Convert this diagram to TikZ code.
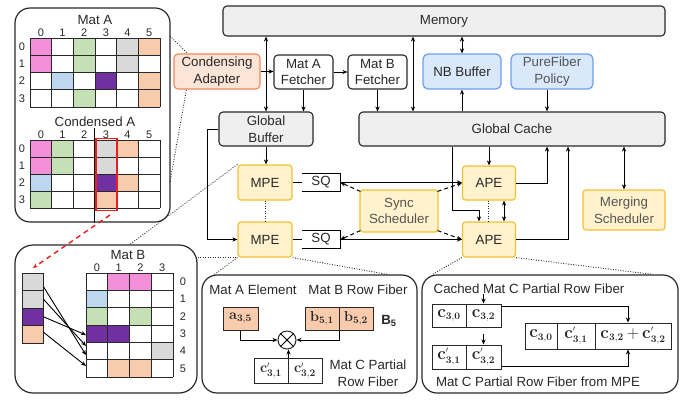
\documentclass[tikz,border=0pt]{standalone}
\usepackage[no-math]{fontspec}
\setmainfont{Liberation Sans}
\usetikzlibrary{arrows.meta}
\definecolor{cpink}{RGB}{244,143,218}
\definecolor{cgreen}{RGB}{197,224,180}
\definecolor{cgray}{RGB}{217,217,217}
\definecolor{corange}{RGB}{248,203,173}
\definecolor{cblue}{RGB}{189,215,238}
\definecolor{cpurple}{RGB}{112,48,160}
\definecolor{dk}{RGB}{40,40,40}
\definecolor{gfill}{RGB}{239,239,239}
\definecolor{yfill}{RGB}{255,242,204}
\definecolor{ybord}{RGB}{241,194,50}
\definecolor{bfill}{RGB}{218,232,252}
\definecolor{bbord}{RGB}{109,158,235}
\definecolor{afill}{RGB}{252,228,214}
\definecolor{abord}{RGB}{237,137,90}
\definecolor{txtg}{RGB}{85,85,85}
\definecolor{redc}{RGB}{235,30,30}
\newcommand{\msz}{15.5}
\newcommand{\subtx}[1]{\mbox{\fontsize{10}{10}\selectfont$\mathbf{#1}$}}
\newcommand{\primtx}{\mbox{\fontsize{8}{8}\selectfont$\prime$}}
\newcommand{\mel}[2]{{\fontsize{\msz}{17}\selectfont$\mathbf{#1}_{\subtx{#2}}$}}
\newcommand{\mep}[2]{{\fontsize{\msz}{17}\selectfont$\mathbf{#1}^{\primtx}_{\subtx{#2}}$}}
\begin{document}
\begin{tikzpicture}[x=1pt,y=-1pt, line width=1pt,
  every node/.style={font=\fontsize{13.3}{16.5}\selectfont, inner sep=0pt, text=dk},
  lbl/.style={font=\fontsize{11}{12}\selectfont},
  arr/.style={-{Stealth[length=5pt,width=4.2pt]}},
  darr/.style={{Stealth[length=5pt,width=4.2pt]}-{Stealth[length=5pt,width=4.2pt]}},
  blk/.style={draw=dk, rounded corners=4pt, line width=1.1pt, align=center},
  gbox/.style={blk, fill=gfill},
  ybox/.style={draw=ybord, fill=yfill, rounded corners=3pt, line width=1.2pt, align=center},
  bbox/.style={draw=bbord, fill=bfill, rounded corners=5pt, line width=1.2pt, align=center},
  panel/.style={draw=dk, rounded corners=15pt, line width=1.2pt, minimum width=#1},
  dots/.style={draw=dk, line width=0.9pt, dash pattern=on 0.9pt off 1.6pt},
  dsh/.style={dash pattern=on 4pt off 3pt},
  gridl/.style={draw=dk, line width=0.9pt},
  cellbox/.style={draw=dk, line width=1pt, minimum height=23pt, inner sep=0pt},
]
\path[use as bounding box] (0,0) rectangle (684,400);

% ---------------- panels
\node[panel=155, minimum height=214] (pA) at (92.5,115) {};
\node[panel=182, minimum height=148, rounded corners=18pt] (pB) at (106,319) {};
\node[panel=215, minimum height=118] (pC) at (309.5,334) {};
\node[panel=256, minimum height=118] (pD) at (550,334) {};

% ---------------- Mat A
\foreach \c/\r/\col in {0/0/cpink,2/0/cgreen,4/0/cgray,5/0/corange,0/1/cpink,2/1/cgreen,4/1/cgray,1/2/cblue,3/2/cpurple,5/2/corange,2/3/cgreen,5/3/corange}
  \fill[\col] ({30+\c*21.67},{38+\r*17.25}) rectangle ++(21.67,17.25);
\foreach \i in {0,...,6} \draw[gridl] ({30+\i*21.67},38) -- ++(0,69);
\foreach \j in {0,...,4} \draw[gridl] (30,{38+\j*17.25}) -- ++(130,0);
\foreach \i in {0,...,5} \node[lbl] (ac\i) at ({30+(\i+0.5)*21.67},32.5) {\i};
\foreach \j in {0,...,3} \node[lbl] (ar\j) at (22,{38+(\j+0.5)*17.25}) {\j};
\node (tMatA) at (95,19.5) {Mat A};

% ---------------- Condensed A
\foreach \c/\r/\col in {0/0/cpink,1/0/cgreen,3/0/cgray,4/0/corange,0/1/cpink,1/1/cgreen,3/1/cgray,0/2/cblue,3/2/cpurple,4/2/corange,0/3/cgreen,3/3/corange}
  \fill[\col] ({30+\c*21.67},{140+\r*17}) rectangle ++(21.67,17);
\foreach \i in {0,...,6} \draw[gridl] ({30+\i*21.67},140) -- ++(0,68);
\foreach \j in {0,...,4} \draw[gridl] (30,{140+\j*17}) -- ++(130,0);
\foreach \i in {0,...,5} \node[lbl] (cc\i) at ({30+(\i+0.5)*21.67},134.5) {\i};
\foreach \j in {0,...,3} \node[lbl] (cr\j) at (22,{140+(\j+0.5)*17}) {\j};
\node (tCondA) at (95,122) {Condensed A};
\coordinate (vtop) at (94.5,128);
\draw[line width=1.4pt, draw=black] (vtop) -- (vtop |- pA.south);
\node[draw=redc, line width=1.8pt, minimum width=21, minimum height=72] (redbox) at (106.5,174.5) {};

% ---------------- Mat B
\foreach \c/\r/\col in {1/0/cpink,2/0/cpink,0/1/cblue,0/2/cgreen,2/2/cgreen,0/3/cpurple,1/3/cpurple,3/4/cgray,1/5/corange,2/5/corange}
  \fill[\col] ({86+\c*21.75},{273+\r*17.33}) rectangle ++(21.75,17.33);
\foreach \i in {0,...,4} \draw[gridl] ({86+\i*21.75},273) -- ++(0,104);
\foreach \j in {0,...,6} \draw[gridl] (86,{273+\j*17.33}) -- ++(87,0);
\foreach \i in {0,...,3} \node[lbl] (bc\i) at ({86+(\i+0.5)*21.75},267.5) {\i};
\foreach \j in {0,...,5} \node[lbl] (br\j) at (183,{273+(\j+0.5)*17.33}) {\j};
\node (tMatB) at (128,255) {Mat B};
\node[draw=dk, fill=cgray, minimum width=21, minimum height=17.5] (v0) at (32.5,281.75) {};
\node[draw=dk, fill=cgray, minimum width=21, minimum height=17.5] (v1) at (32.5,299.25) {};
\node[draw=dk, fill=cpurple, minimum width=21, minimum height=17.5] (v2) at (32.5,316.75) {};
\node[draw=dk, fill=corange, minimum width=21, minimum height=17.5] (v3) at (32.5,334.25) {};
\coordinate (b3) at (86,335);
\coordinate (b4a) at (86,346);
\coordinate (b4b) at (86,355);
\coordinate (b5) at (86,366);
\draw[arr, line width=0.9pt] ([yshift=-5pt]v0.east) -- (b4b);
\draw[arr, line width=0.9pt] (v1.east) -- (b4a);
\draw[arr, line width=0.9pt] (v2.east) -- (b3);
\draw[arr, line width=0.9pt] ([yshift=2pt]v3.east) -- (b5);

% red dashed arrow
\coordinate (rs) at (110,215);
\coordinate (re) at (33,268);
\draw[arr, draw=redc, line width=1.4pt, dash pattern=on 5pt off 4pt] (rs) -- (re);

% ---------------- architecture
\node[gbox, minimum width=442, minimum height=30] (mem) at (444,21) {Memory};
\node[blk, fill=afill, draw=abord, minimum width=86, minimum height=35] (adapt) at (217,71.5) {Condensing\\Adapter};
\node[blk, fill=white, minimum width=59, minimum height=34] (fa) at (303.5,72) {Mat A\\Fetcher};
\node[blk, fill=white, minimum width=59, minimum height=34] (fb) at (377.5,72) {Mat B\\Fetcher};
\node[gbox, minimum width=94, minimum height=34] (gbuf) at (266,129) {Global\\Buffer};
\node[gbox, minimum width=306, minimum height=34] (gc) at (512,129) {Global Cache};
\node[bbox, minimum width=78, minimum height=35] (nb) at (462,71.5) {NB Buffer};
\node[bbox, minimum width=82, minimum height=35, text=txtg] (pf) at (552,71.5) {PureFiber\\Policy};
\node[ybox, minimum width=54, minimum height=35] (mpe1) at (265,182.5) {MPE};
\node[ybox, minimum width=54, minimum height=35] (mpe2) at (265,239.5) {MPE};
\node[minimum width=38, minimum height=17] (sq1) at (321,182.5) {SQ};
\node[minimum width=38, minimum height=17] (sq2) at (321,239.5) {SQ};
\draw[line width=1.2pt] (sq1.north west) -- (sq1.north east) -- (sq1.south east) -- (sq1.south west);
\draw[line width=1.2pt] (sq2.north west) -- (sq2.north east) -- (sq2.south east) -- (sq2.south west);
\node[ybox, minimum width=78, minimum height=42, text=txtg] (sync) at (399,211) {Sync\\Scheduler};
\node[ybox, minimum width=53, minimum height=34] (ape1) at (489,183) {APE};
\node[ybox, minimum width=53, minimum height=35] (ape2) at (489,239.5) {APE};
\node[ybox, minimum width=82, minimum height=40, text=txtg] (merge) at (624,210) {Merging\\Scheduler};

\coordinate (xm) at (413,0);
\coordinate (xp) at (547,0);

\draw[arr] (adapt.east) -- (adapt.east -| fa.west);
\draw[arr] (fa.east) -- (fa.east -| fb.west);
\draw[darr] (mem.south -| gbuf.north) -- (gbuf.north);
\draw[arr] (fa.south) -- (fa.south |- gbuf.north);
\draw[arr] (fb.south) -- (fb.south |- gc.north);
\draw[darr] (mem.south -| xm) -- (gc.north -| xm);
\draw[darr] (mem.south -| nb.north) -- (nb.north);
\draw[arr] (gc.north -| nb.south) -- (nb.south);
\draw[arr] (pf.south -| xp) -- (gc.north -| xp);
\draw[arr] (gbuf.south) -- (gbuf.south |- mpe1.north);
\draw[arr] (gbuf.west) -- ++(-11,0) |- (mpe2.west);
\draw (mpe1.east) -- (sq1.west);
\draw (mpe2.east) -- (sq2.west);
\draw[arr] (sq1.east) -- (sq1.east -| ape1.west);
\draw[arr] (sq2.east) -- (ape2.west);
\draw[arr, dsh] ([shift={(1,2)}]sync.north west) -- (sq1.east);
\draw[arr, dsh] ([shift={(1,-2)}]sync.south west) -- (sq2.east);
\draw[arr, dsh] ([shift={(-1,2)}]sync.north east) -- (ape1.west);
\draw[arr, dsh] ([shift={(-1,-2)}]sync.south east) -- (ape2.west);
\draw[arr] (gc.south -| ape1.north) -- (ape1.north);
\draw[arr] (ape1.east) -| (gc.south -| xp);
\draw[arr] (ape2.east) -| ([xshift=56pt]gc.south);
\draw[arr] ([xshift=-60pt]gc.south) -- ++(0,64) -| ([xshift=-10pt]ape2.north);
\draw[dots] ([xshift=-1pt]ape1.south) -- ([xshift=-1pt]ape2.north);
\draw[darr] ([xshift=15pt]ape1.south) -- ([xshift=15pt]ape2.north);
\draw[dots] (mpe1.south) -- (mpe2.north);
\draw[darr] (gc.south -| merge.north) -- (merge.north);

% ---------------- dotted zoom lines
\coordinate (dA1) at (170,36);
\coordinate (dA2) at (170,182);
\draw[dots] (dA1) -- ([xshift=14pt]adapt.north west);
\draw[dots] (dA2) -- ([xshift=13pt]adapt.south west);
\draw[dots] (mpe1.north west) -- ([xshift=24pt]pB.north);
\draw[dots] (pB.east |- mpe2.south) -- (mpe2.south west);
\draw[dots] (mpe2.south west) -- ([xshift=13pt]pC.north west);
\draw[dots] (mpe2.south east) -- ([xshift=-30pt]pC.north east);
\draw[dots] (ape2.south west) -- ([xshift=11pt]pD.north west);
\draw[dots] (ape2.south east) -- ([xshift=-26pt]pD.north east);

% ---------------- panel C
\node (tAel) at (253,290) {Mat A Element};
\node (tBrf) at (358,290) {Mat B Row Fiber};
\node[cellbox, fill=corange, minimum width=35] (a35) at (240.5,318.5) {\mel{a}{3{,}5}};
\node[cellbox, fill=corange, minimum width=34] (b51) at (322,318.5) {\mel{b}{5{,}1}};
\node[cellbox, fill=corange, minimum width=34] (b52) at (356,318.5) {\mel{b}{5{,}2}};
\node (B5) at (389,321) {\textbf{B\textsubscript{5}}};
\node[circle, draw=dk, line width=1pt, minimum size=18pt] (ot) at (287,340) {};
\draw (ot.north west) -- (ot.south east);
\draw (ot.north east) -- (ot.south west);
\node[cellbox, fill=white, minimum width=34, minimum height=25] (c31p) at (271,370.5) {\mep{c}{3{,}1}};
\node[cellbox, fill=white, minimum width=34, minimum height=25] (c32p) at (305,370.5) {\mep{c}{3{,}2}};
\node[align=center] (tCpr) at (368,373) {Mat C Partial\\Row Fiber};
\draw[arr] (a35.south) |- (ot.west);
\draw[arr] (b51.south east) |- (ot.east);
\draw[arr] (c31p.north east) -- (c31p.north east |- ot.south);

% ---------------- panel D
\renewcommand{\msz}{17.5}
\node (tCached) at (529,289) {Cached Mat C Partial Row Fiber};
\node[cellbox, minimum width=34, minimum height=23] (d30) at (449,315.5) {\mel{c}{3{,}0}};
\node[cellbox, minimum width=35, minimum height=23] (d32) at (483.5,315.5) {\mel{c}{3{,}2}};
\node[cellbox, minimum width=34, minimum height=24] (e31) at (449,357) {\mep{c}{3{,}1}};
\node[cellbox, minimum width=35, minimum height=24] (e32) at (483.5,357) {\mep{c}{3{,}2}};
\node[cellbox, minimum width=32, minimum height=26] (r1) at (541,336) {\mel{c}{3{,}0}};
\node[cellbox, minimum width=38, minimum height=26] (r2) at (576,336) {\mep{c}{3{,}1}};
\node[cellbox, minimum width=76, minimum height=26] (r3) at (633,336) {\mel{c}{3{,}2}{\fontsize{\msz}{17}\selectfont$\,+\,$}\mep{c}{3{,}2}};
\node (tFromMPE) at (538,382) {Mat C Partial Row Fiber from MPE};
\draw[arr] (d32.north |- tCached.south) -- (d32.north);
\draw[arr] ([yshift=-6pt]d32.south) -- (e32.north);
\draw[arr] ([yshift=-3pt]d32.north east) -| ([xshift=-5pt]r3.north);
\draw[arr] ([yshift=3pt]e32.south east) -| ([xshift=-5pt]r3.south);
\end{tikzpicture}
\end{document}
